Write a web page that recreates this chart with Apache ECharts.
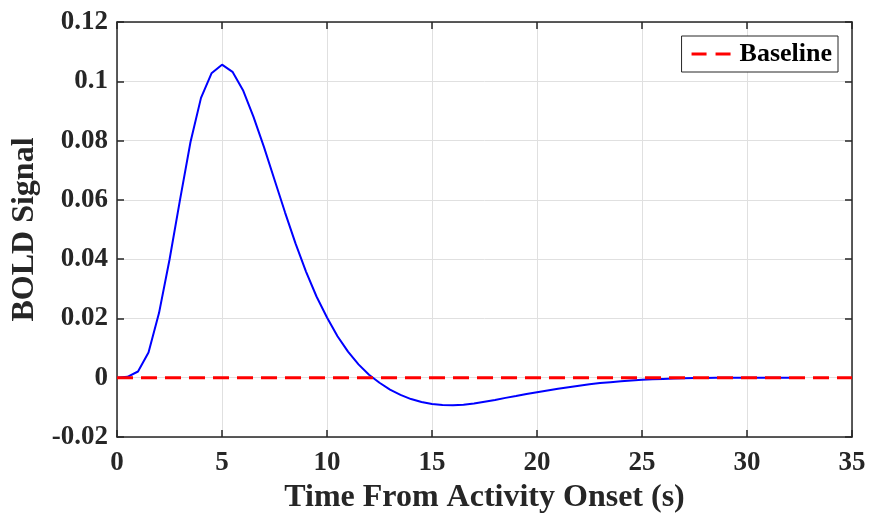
<!DOCTYPE html>
<html>
<head>
<meta charset="utf-8">
<script src="https://cdn.jsdelivr.net/npm/echarts@6/dist/echarts.min.js"></script>
<style>
  html, body { margin: 0; padding: 0; background: #fff; }
  #chart { width: 870px; height: 516px; }
</style>
</head>
<body>
<div id="chart"></div>
<script>
// time (s)
const timeData = [
  0, 0.5, 1, 1.5, 2, 2.5, 3, 3.5, 4, 4.5, 5, 5.5, 6, 6.5, 7, 7.5, 8, 8.5, 9, 9.5,
  10, 10.5, 11, 11.5, 12, 12.5, 13, 13.5, 14, 14.5, 15, 15.5, 16, 16.5, 17, 17.5,
  18, 18.5, 19, 19.5, 20, 20.5, 21, 21.5, 22, 22.5, 23, 23.5, 24, 24.5, 25, 25.5,
  26, 26.5, 27, 27.5, 28, 28.5, 29, 29.5, 30, 30.5, 31, 31.5, 32
]
// BOLD signal
const boldData = [
  0, 0.0003, 0.0021, 0.0085, 0.0218, 0.0398, 0.0600, 0.0795, 0.0944, 0.1027,
  0.1056, 0.1032, 0.0970, 0.0880, 0.0778, 0.0668, 0.0558, 0.0453, 0.0358, 0.0274,
  0.0203, 0.0140, 0.0088, 0.0045, 0.0010, -0.0017, -0.0040, -0.0058, -0.0072, -0.0082,
  -0.0089, -0.0092, -0.0093, -0.0091, -0.0087, -0.0081, -0.0075, -0.0068, -0.0062, -0.0055,
  -0.0049, -0.0043, -0.0037, -0.0032, -0.0027, -0.0022, -0.0018, -0.0015, -0.0012, -0.0009,
  -0.0007, -0.0005, -0.0004, -0.0003, -0.0002, -0.0001, -0.0001, 0, 0, 0,
  0, 0, 0, 0, 0
]
const baselineData = [[0, 0], [35, 0]]

const fontFam = "'Liberation Serif', 'Times New Roman', serif"
const axisColor = '#262626'

let chart = echarts.init(document.getElementById('chart'))

let fmtY = function (v) {
  return String(parseFloat(v.toFixed(2)))
}

let frameAxis = {
  axisLine: { show: true, onZero: false, lineStyle: { color: axisColor, width: 1.5 } },
  axisTick: { show: true, inside: true, length: 7, lineStyle: { color: axisColor, width: 1.5 } }
}

const option = {
  animation: false,
  backgroundColor: '#fff',
  grid: { left: 117, right: 18, top: 22, bottom: 79, containLabel: false, outerBoundsMode: 'none' },
  legend: {
    // two red dashes like the matlab legend sample
    data: [{ name: 'Baseline', icon: 'path://M0,0h15v3h-15z M24,0h15v3h-15z' }],
    right: 32,
    top: 36,
    backgroundColor: '#fff',
    borderColor: axisColor,
    borderWidth: 1,
    borderRadius: 0,
    padding: [5, 6, 5, 10],
    itemWidth: 39,
    itemHeight: 3,
    itemGap: 10,
    textStyle: { fontFamily: fontFam, fontWeight: 'bold', fontSize: 26, color: '#000', padding: [0, 0, 0, 4] }
  },
  xAxis: [
    Object.assign({
      type: 'value',
      min: 0,
      max: 35,
      interval: 5,
      name: 'Time From Activity Onset (s)',
      nameLocation: 'middle',
      nameGap: 45,
      nameTextStyle: { fontFamily: fontFam, fontWeight: 'bold', fontSize: 32, color: '#262626' },
      axisLabel: { fontFamily: fontFam, fontWeight: 'bold', fontSize: 27, color: axisColor, margin: 13 },
      splitLine: { show: true, lineStyle: { color: '#e0e0e0', width: 1 } }
    }, frameAxis),
    Object.assign({
      type: 'value',
      position: 'top',
      min: 0,
      max: 35,
      interval: 5,
      axisLabel: { show: false },
      splitLine: { show: false }
    }, frameAxis)
  ],
  yAxis: [
    Object.assign({
      type: 'value',
      min: -0.02,
      max: 0.12,
      interval: 0.02,
      name: 'BOLD Signal',
      nameLocation: 'middle',
      nameGap: 76,
      nameTextStyle: { fontFamily: fontFam, fontWeight: 'bold', fontSize: 32, color: '#262626' },
      axisLabel: { fontFamily: fontFam, fontWeight: 'bold', fontSize: 27, color: axisColor, margin: 9, formatter: fmtY },
      splitLine: { show: true, lineStyle: { color: '#e0e0e0', width: 1 } }
    }, frameAxis),
    Object.assign({
      type: 'value',
      position: 'right',
      min: -0.02,
      max: 0.12,
      interval: 0.02,
      axisLabel: { show: false },
      splitLine: { show: false }
    }, frameAxis)
  ],
  series: [
    {
      name: 'HRF',
      type: 'line',
      symbol: 'none',
      lineStyle: { color: '#0000ff', width: 2 },
      itemStyle: { color: '#0000ff' },
      data: timeData.map((t, i) => [t, boldData[i]]),
      z: 3
    },
    {
      name: 'Baseline',
      type: 'line',
      symbol: 'none',
      lineStyle: { color: '#ff0000', width: 3, type: [16, 8] },
      itemStyle: { color: '#ff0000' },
      data: baselineData,
      z: 4
    }
  ]
}
chart.setOption(option)
</script>
</body>
</html>
